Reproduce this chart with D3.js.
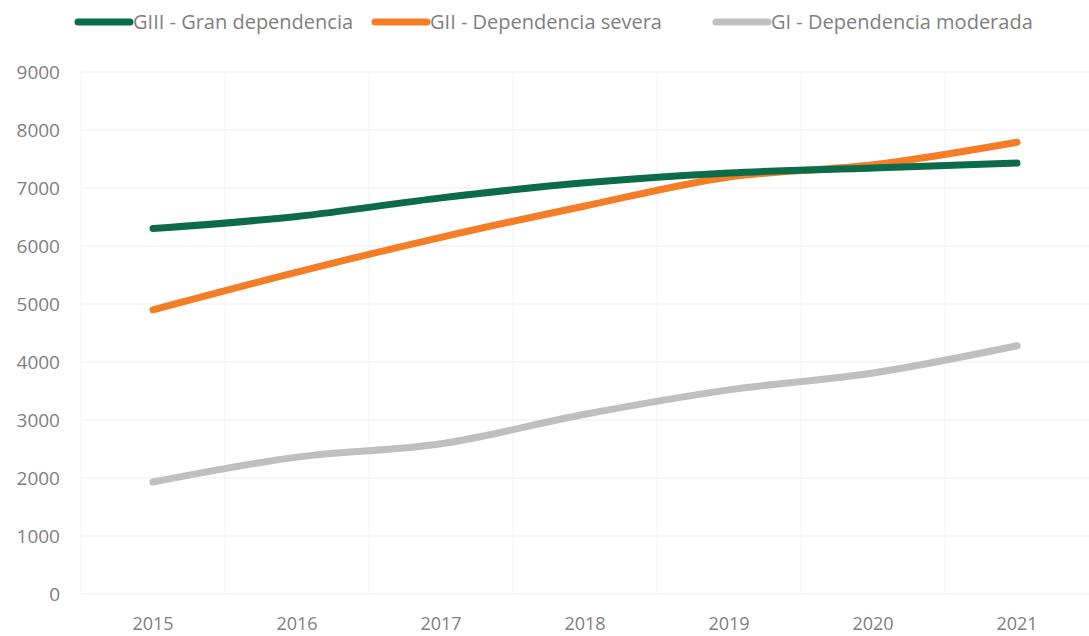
<!DOCTYPE html>
<html>
<head>
<meta charset="utf-8">
<script src="https://cdn.jsdelivr.net/npm/d3@7"></script>
<style>
  body { margin: 0; background: #fff; }
  text { font-family: "Open Sans", sans-serif; }
</style>
</head>
<body>
<svg width="1089" height="636"></svg>
<script>
var years = ["2015", "2016", "2017", "2018", "2019", "2020", "2021"];
var gIII = [6300, 6510, 6830, 7090, 7260, 7345, 7430];
var gII = [4900, 5550, 6150, 6690, 7190, 7400, 7790];
var gI = [1930, 2360, 2590, 3100, 3520, 3810, 4280];
var yTicks = [0, 1000, 2000, 3000, 4000, 5000, 6000, 7000, 8000, 9000];

var series = [
    {name: "GIII - Gran dependencia", values: gIII, color: "#0b6b4b"},
    {name: "GII - Dependencia severa", values: gII, color: "#f47d25"},
    {name: "GI - Dependencia moderada", values: gI, color: "#bfbfbf"}
];

var svg = d3.select("svg"),
    margin = {top: 72, right: 0, bottom: 42, left: 81},
    width = +svg.attr("width") - margin.left - margin.right,
    height = +svg.attr("height") - margin.top - margin.bottom,
    g = svg.append("g").attr("transform", "translate(" + margin.left + "," + margin.top + ")");

var x = d3.scaleBand().domain(years).range([0, width]);
var y = d3.scaleLinear().domain([0, 9000]).range([height, 0]);

// gridlines
g.selectAll(".hgrid")
    .data(yTicks)
    .enter().append("line")
    .attr("x1", 0).attr("x2", width)
    .attr("y1", d => y(d)).attr("y2", d => y(d))
    .attr("stroke", "#efefef").attr("stroke-width", 1);

g.selectAll(".vgrid")
    .data(years)
    .enter().append("line")
    .attr("x1", d => x(d)).attr("x2", d => x(d))
    .attr("y1", 0).attr("y2", height)
    .attr("stroke", "#f2f2f2").attr("stroke-width", 1);

// axes
var yAxis = g.append("g")
    .call(d3.axisLeft(y).tickValues(yTicks).tickFormat(d3.format("d")).tickSize(0).tickPadding(21));
yAxis.select(".domain").remove();
yAxis.selectAll("text").attr("fill", "#808080").style("font-size", "19px");

var xAxis = g.append("g")
    .attr("transform", "translate(0," + height + ")")
    .call(d3.axisBottom(x).tickSize(0).tickPadding(23));
xAxis.select(".domain").remove();
xAxis.selectAll("text").attr("fill", "#808080").style("font-size", "18px");

// lines
var line = d3.line()
    .x((d, i) => x(years[i]) + x.bandwidth() / 2)
    .y(d => y(d))
    .curve(d3.curveCatmullRom.alpha(0.5));

g.selectAll(".series")
    .data(series.slice().reverse())
    .enter().append("path")
    .attr("d", d => line(d.values))
    .attr("fill", "none")
    .attr("stroke", d => d.color)
    .attr("stroke-width", 7)
    .attr("stroke-linecap", "round");

// legend
var legendX = [78, 375, 716];
var legend = svg.selectAll(".legend")
    .data(series)
    .enter().append("g")
    .attr("transform", (d, i) => "translate(" + legendX[i] + ",22)");

legend.append("line")
    .attr("x1", 0).attr("x2", 52)
    .attr("stroke", d => d.color)
    .attr("stroke-width", 7)
    .attr("stroke-linecap", "round");

legend.append("text")
    .attr("x", 55)
    .attr("dy", "0.35em")
    .attr("fill", "#7f7f7f")
    .style("font-size", "20px")
    .text(d => d.name);
</script>
</body>
</html>
